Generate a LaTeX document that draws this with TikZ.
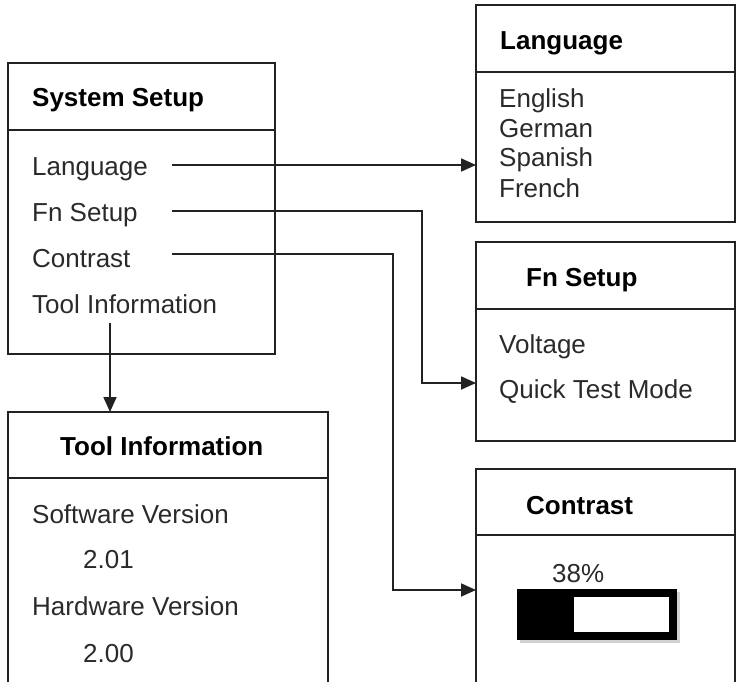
\documentclass[tikz,border=0pt]{standalone}
\usepackage{fontspec}
\setmainfont{Liberation Sans}
\usetikzlibrary{arrows.meta}
\definecolor{ln}{HTML}{222222}
\definecolor{tx}{HTML}{2A2A2A}
\tikzset{
  panel/.style={draw=ln, line width=1.8pt, anchor=north west, inner sep=0pt, outer sep=0pt},
  ttl/.style={anchor=base west, inner sep=0pt, font=\fontsize{26}{30}\selectfont\bfseries, text=black},
  itm/.style={anchor=base west, inner sep=0pt, font=\fontsize{26}{30}\selectfont, text=tx},
  conn/.style={draw=ln, line width=1.8pt, -{Triangle[length=15pt,width=13pt]}},
  divl/.style={draw=ln, line width=1.8pt}
}
\begin{document}
\begin{tikzpicture}[x=1pt,y=-1pt]
\useasboundingbox (0,0) rectangle (737,682);
\clip (0,0) rectangle (737,682);
% boxes
\node[panel, minimum width=267pt, minimum height=291pt] (sys) at (8,63) {};
\node[panel, minimum width=259pt, minimum height=217pt] (lang) at (476,5) {};
\node[panel, minimum width=259pt, minimum height=199pt] (fn) at (476,242) {};
\node[panel, minimum width=259pt, minimum height=240pt] (con) at (476,469) {};
\node[panel, minimum width=320pt, minimum height=300pt] (tool) at (8,412) {};
% dividers
\draw[divl] (sys.west |- 0,130) -- (sys.east |- 0,130);
\draw[divl] (lang.west |- 0,72) -- (lang.east |- 0,72);
\draw[divl] (fn.west |- 0,309) -- (fn.east |- 0,309);
\draw[divl] (con.west |- 0,535) -- (con.east |- 0,535);
\draw[divl] (tool.west |- 0,478) -- (tool.east |- 0,478);
% System Setup texts
\node[ttl] (sysT) at (32,107) {System Setup};
\node[itm] (sLang) at (32,176) {Language};
\node[itm] (sFn) at (32,222) {Fn Setup};
\node[itm] (sCon) at (32,267) {Contrast};
\node[itm] (sTool) at (32,313) {Tool Information};
% Language box
\node[ttl] (langT) at (500,50) {Language};
\node[itm] (l1) at (499,108) {English};
\node[itm] (l2) at (499,138) {German};
\node[itm] (l3) at (499,167) {Spanish};
\node[itm] (l4) at (499,197) {French};
% Fn Setup box
\node[ttl] (fnT) at (526,287) {Fn Setup};
\node[itm] (f1) at (499,353) {Voltage};
\node[itm] (f2) at (499,398) {Quick Test Mode};
% Contrast box
\node[ttl] (conT) at (526,514) {Contrast};
\node[itm] (pct) at (552,582) {38\%};
\fill[gray!35] (520,592) rectangle (680,643);
\node[fill=black, inner sep=0pt, minimum width=160pt, minimum height=51pt, anchor=north west] (bar) at (517,589) {};
\node[fill=white, inner sep=0pt, minimum width=95pt, minimum height=35pt, anchor=north west] (barin) at (574,597) {};
% Tool Information box
\node[ttl] (toolT) at (60,455) {Tool Information};
\node[itm] (t1) at (32,523) {Software Version};
\node[itm] (t2) at (83,568) {2.01};
\node[itm] (t3) at (32,615) {Hardware Version};
\node[itm] (t4) at (83,662) {2.00};
% connector start points
\coordinate (cL) at (172,165);
\coordinate (cF) at (172,211);
\coordinate (cC) at (172,254);
\coordinate (cT) at (110,323);
% connectors
\draw[conn] (cL) -- (lang.west |- cL);
\draw[conn] (cF) -- (422,211) -- (422,383) -- (fn.west |- 0,383);
\draw[conn] (cC) -- (393,254) -- (393,590) -- (con.west |- 0,590);
\draw[conn] (cT) -- (tool.north -| cT);
\end{tikzpicture}
\end{document}
